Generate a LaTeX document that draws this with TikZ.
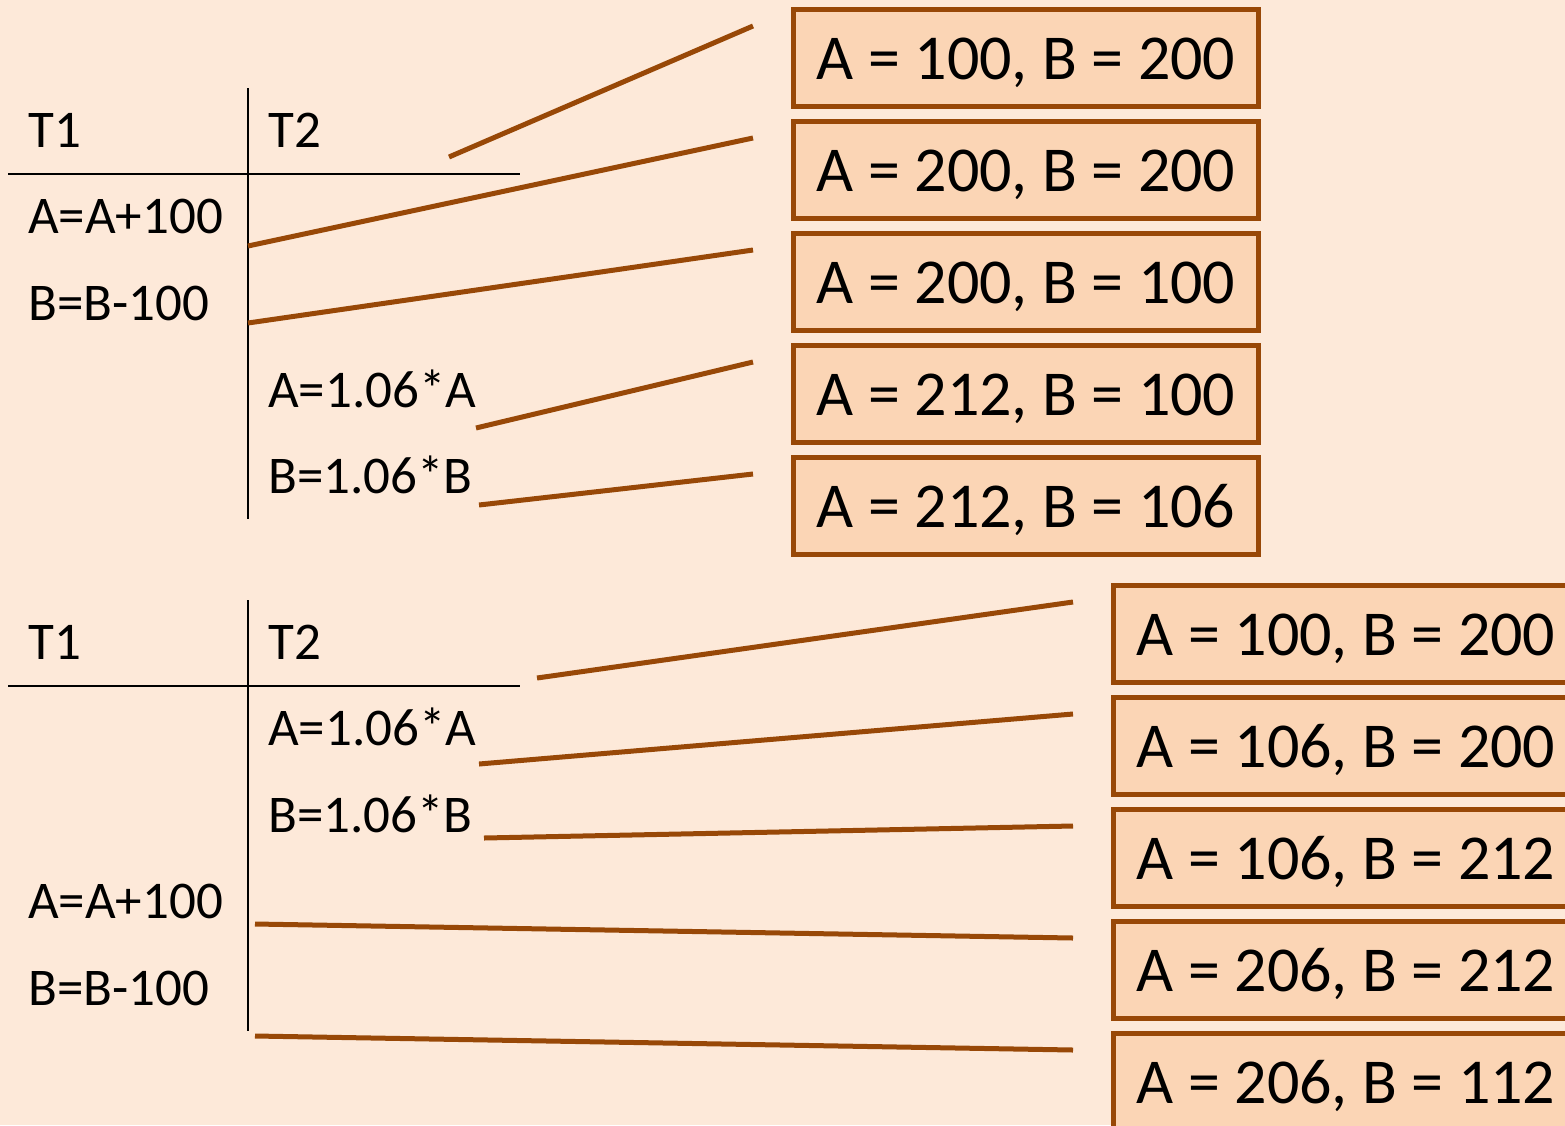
\documentclass[tikz,border=0pt]{standalone}
\usepackage{fontspec}
\setmainfont{Carlito}
\definecolor{bg}{HTML}{FDE9D9}
\definecolor{boxfill}{HTML}{FBD5B5}
\definecolor{brn}{HTML}{984807}
\begin{document}
\begin{tikzpicture}[x=1pt,y=-1pt,
  box/.style={draw=brn, fill=boxfill, line width=5pt, minimum width=465pt, minimum height=97pt,
    inner sep=0pt, text height=45pt, text depth=2pt, font=\fontsize{64}{70}\selectfont, anchor=north west},
  lbl/.style={anchor=base west, inner sep=0pt, font=\fontsize{53}{60}\selectfont},
  tabrule/.style={line width=2.7pt, black},
  conn/.style={draw=brn, line width=5pt}]
\path[use as bounding box, fill=bg] (0,0) rectangle (1565,1125);
\clip (0,0) rectangle (1565,1125);

% ---------- top schedule ----------
\coordinate (v1t) at (248,88);  \coordinate (v1b) at (248,519);
\coordinate (h1l) at (8,174);   \coordinate (h1r) at (520,174);
\draw[tabrule] (v1t) -- (v1b);
\draw[tabrule] (h1l) -- (h1r);
\node[lbl] (t1a) at (28,147) {T1};
\node[lbl] (t2a) at (268,147) {T2};
\node[lbl] (a1a) at (28,233) {A=A+100};
\node[lbl] (b1a) at (28,320) {B=B-100};
\node[lbl] (a2a) at (268,407) {A=1.06*A};
\node[lbl] (b2a) at (268,493) {B=1.06*B};

\node[box] (ta) at (791,7)   {A = 100, B = 200};
\node[box] (tb) at (791,119) {A = 200, B = 200};
\node[box] (tc) at (791,231) {A = 200, B = 100};
\node[box] (td) at (791,343) {A = 212, B = 100};
\node[box] (te) at (791,455) {A = 212, B = 106};

\coordinate (sa) at (449,157);
\coordinate (sb) at (248,246);
\coordinate (sc) at (248,323);
\coordinate (sd) at (476,428);
\coordinate (se) at (479,505);
\draw[conn] (sa) -- ([xshift=-38pt,yshift=-19pt]ta.north west);
\draw[conn] (sb) -- ([xshift=-38pt,yshift=-19pt]tb.north west);
\draw[conn] (sc) -- ([xshift=-38pt,yshift=-19pt]tc.north west);
\draw[conn] (sd) -- ([xshift=-38pt,yshift=-19pt]td.north west);
\draw[conn] (se) -- ([xshift=-38pt,yshift=-19pt]te.north west);

% ---------- bottom schedule ----------
\coordinate (v2t) at (248,600);  \coordinate (v2b) at (248,1031);
\coordinate (h2l) at (8,686);    \coordinate (h2r) at (520,686);
\draw[tabrule] (v2t) -- (v2b);
\draw[tabrule] (h2l) -- (h2r);
\node[lbl] (t1b) at (28,659) {T1};
\node[lbl] (t2b) at (268,659) {T2};
\node[lbl] (a2b) at (268,745) {A=1.06*A};
\node[lbl] (b2b) at (268,832) {B=1.06*B};
\node[lbl] (a1b) at (28,918) {A=A+100};
\node[lbl] (b1b) at (28,1005) {B=B-100};

\node[box] (ba) at (1111,583)  {A = 100, B = 200};
\node[box] (bb) at (1111,695)  {A = 106, B = 200};
\node[box] (bc) at (1111,807)  {A = 106, B = 212};
\node[box] (bd) at (1111,919)  {A = 206, B = 212};
\node[box] (be) at (1111,1031) {A = 206, B = 112};

\coordinate (ua) at (537,678);
\coordinate (ub) at (479,764);
\coordinate (uc) at (484,838);
\coordinate (ud) at (255,924);
\coordinate (ue) at (255,1036);
\draw[conn] (ua) -- ([xshift=-38pt,yshift=-19pt]ba.north west);
\draw[conn] (ub) -- ([xshift=-38pt,yshift=-19pt]bb.north west);
\draw[conn] (uc) -- ([xshift=-38pt,yshift=-19pt]bc.north west);
\draw[conn] (ud) -- ([xshift=-38pt,yshift=-19pt]bd.north west);
\draw[conn] (ue) -- ([xshift=-38pt,yshift=-19pt]be.north west);
\end{tikzpicture}
\end{document}
